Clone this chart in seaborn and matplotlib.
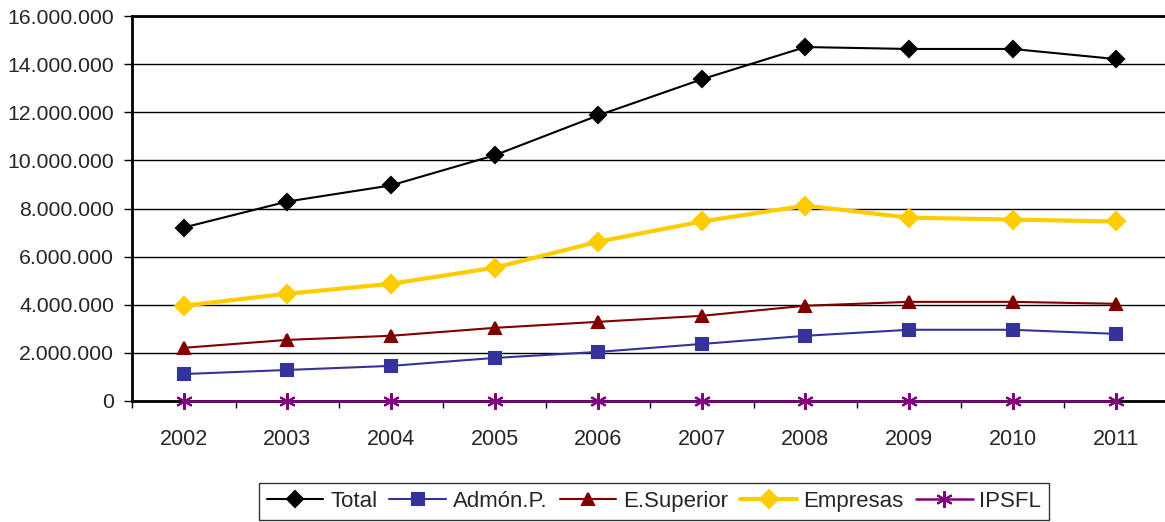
import numpy as np
import pandas as pd
import matplotlib
matplotlib.use("Agg")
import matplotlib.pyplot as plt
import seaborn as sns
from matplotlib.ticker import FuncFormatter, FixedLocator

# === Datos ===
years = ["2002", "2003", "2004", "2005", "2006", "2007", "2008", "2009", "2010", "2011"]
total = [7210000, 8290000, 8960000, 10210000, 11870000, 13370000, 14710000, 14630000, 14630000, 14210000]
admon = [1120000, 1290000, 1460000, 1790000, 2040000, 2370000, 2710000, 2960000, 2960000, 2790000]
esuperior = [2210000, 2540000, 2710000, 3040000, 3290000, 3540000, 3960000, 4120000, 4120000, 4040000]
empresas = [3960000, 4460000, 4870000, 5540000, 6620000, 7460000, 8120000, 7620000, 7540000, 7460000]
ipsfl = [20000, 20000, 20000, 20000, 20000, 20000, 20000, 20000, 20000, 20000]

series = ["Total", "Admón.P.", "E.Superior", "Empresas", "IPSFL"]

df = pd.DataFrame({"Total": total, "Admón.P.": admon, "E.Superior": esuperior,
                   "Empresas": empresas, "IPSFL": ipsfl})
df["pos"] = np.arange(len(years))

sns.set_style("white")
plt.rcParams["font.family"] = ["Liberation Sans", "DejaVu Sans"]

estilos = {
    "Total": dict(color="black", marker="D", ms=8, lw=1.5),
    "Admón.P.": dict(color="#333399", marker="s", ms=8, lw=1.5),
    "E.Superior": dict(color="#800000", marker="^", ms=9, lw=1.5),
    "Empresas": dict(color="#FFCC00", marker="D", ms=9, lw=3),
    "IPSFL": dict(color="#800080", marker=(6, 2, 0), ms=12, lw=1.8),
}

fig = plt.figure(figsize=(11.65, 5.22), dpi=100)
ax = fig.add_axes([132 / 1165, 1 - 401 / 522, 1036 / 1165, 385 / 522])

for s in series:
    e = estilos[s]
    sns.lineplot(data=df, x="pos", y=s, ax=ax, color=e["color"], marker=e["marker"],
                 markersize=e["ms"], linewidth=e["lw"], markeredgecolor=e["color"],
                 markeredgewidth=1.5, label=s, legend=False, clip_on=False, zorder=5)

ax.set_xlim(-0.5, 9.5)
ax.set_ylim(0, 16000000)
ax.set_yticks(np.arange(0, 16000001, 2000000))
ax.yaxis.set_major_formatter(FuncFormatter(lambda v, p: f"{int(v):,}".replace(",", ".")))
ax.set_xticks(np.arange(len(years)))
ax.set_xticklabels(years)
ax.xaxis.set_minor_locator(FixedLocator(np.arange(-0.5, 10, 1)))
ax.tick_params(axis="x", which="major", length=0, pad=20, labelsize=15.5)
ax.tick_params(axis="x", which="minor", length=5, width=1, direction="out", color="black", bottom=True)
ax.tick_params(axis="y", length=6, width=1, direction="out", color="black", left=True, labelsize=15.3, pad=7)
ax.set_xlabel("")
ax.set_ylabel("")

ax.yaxis.grid(True, color="black", linewidth=1)
ax.set_axisbelow(True)
for side in ["left", "bottom", "top"]:
    ax.spines[side].set_visible(True)
    ax.spines[side].set_color("black")
ax.spines["left"].set_linewidth(2)
ax.spines["bottom"].set_linewidth(2)
ax.spines["top"].set_linewidth(2)
ax.spines["right"].set_visible(False)

handles, labels = ax.get_legend_handles_labels()
leg = fig.legend(handles, labels, loc="upper center", bbox_to_anchor=(654 / 1165, 1 - 483 / 522),
                 ncol=5, frameon=True, fancybox=False, fontsize=16, handlelength=2.55,
                 handletextpad=0.3, columnspacing=0.55, borderpad=0.35, borderaxespad=0,
                 edgecolor="black")
leg.get_frame().set_linewidth(1)

fig.savefig("out.png", dpi=100)
